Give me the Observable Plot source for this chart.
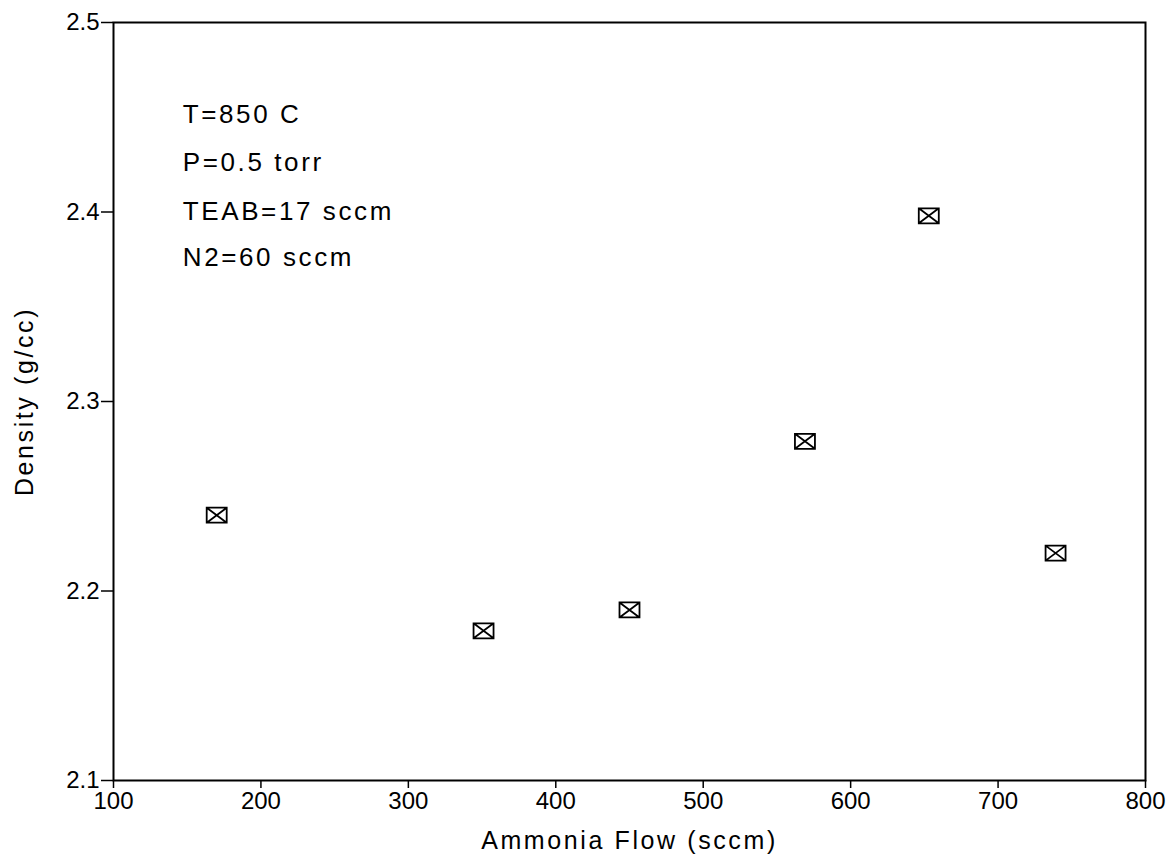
<!DOCTYPE html>
<html>
<head>
<meta charset="utf-8">
<script src="https://cdn.jsdelivr.net/npm/d3@7"></script>
<script src="https://cdn.jsdelivr.net/npm/@observablehq/plot@0.6"></script>
<style>
  html, body { margin: 0; padding: 0; background: #fff; }
  #chart svg { display: block; }
  /* wide, airy lettering for axis titles and the condition notes */
  #chart g[aria-label="x-axis label"] text,
  #chart g[aria-label="y-axis label"] text { letter-spacing: 2.6px; font-size: 25px; }
  #chart g[aria-label="text"] text { letter-spacing: 2.6px; }
</style>
</head>
<body>
<div id="chart"></div>
<script>
// Film density versus ammonia flow
const flow = [170, 351, 450, 569, 653, 739];              // sccm
const density = [2.24, 2.179, 2.19, 2.279, 2.398, 2.22];  // g/cc

const xTicks = [100, 200, 300, 400, 500, 600, 700, 800];
const yTicks = [2.1, 2.2, 2.3, 2.4, 2.5];

// Process conditions listed in the upper left
const conditionText = ["T=850 C", "P=0.5 torr", "TEAB=17 sccm", "N2=60 sccm"];
const conditionX = [147, 147, 147, 147];
const conditionY = [2.4515, 2.426, 2.4003, 2.376];

const points = flow.map((f, i) => ({flow: f, density: density[i]}));
const conditions = conditionText.map((t, i) => ({text: t, x: conditionX[i], y: conditionY[i]}));

// Open rectangle with a cross inside
const boxCross = {
  draw(context) {
    const w = 10, h = 7.5;
    context.moveTo(-w, -h);
    context.lineTo(w, -h);
    context.lineTo(w, h);
    context.lineTo(-w, h);
    context.closePath();
    context.moveTo(-w, -h);
    context.lineTo(w, h);
    context.moveTo(w, -h);
    context.lineTo(-w, h);
  }
};

const font = "'Liberation Sans', Arial, Helvetica, sans-serif";

const chart = Plot.plot({
  width: 1175,
  height: 860,
  marginLeft: 113,
  marginRight: 30,
  marginTop: 22,
  marginBottom: 80,
  style: {fontFamily: font, background: "#fff", color: "#000"},
  x: {domain: [100, 800]},
  y: {domain: [2.1, 2.5]},
  marks: [
    Plot.frame({stroke: "#000", strokeWidth: 2}),
    Plot.axisX({
      ticks: xTicks,
      tickSize: 8,
      tickPadding: 3,
      tickFormat: d => String(d),
      fontSize: 24,
      strokeWidth: 1.5,
      label: "Ammonia Flow (sccm)",
      labelAnchor: "center",
      labelArrow: "none",
      labelOffset: 68
    }),
    Plot.axisY({
      ticks: yTicks,
      tickSize: 12,
      tickPadding: 2,
      tickFormat: d => d.toFixed(1),
      fontSize: 24,
      strokeWidth: 1.5,
      label: "Density (g/cc)",
      labelAnchor: "center",
      labelArrow: "none",
      labelOffset: 98
    }),
    Plot.dot(points, {
      x: "flow",
      y: "density",
      symbol: boxCross,
      r: 8,
      stroke: "#000",
      strokeWidth: 1.8,
      fill: "#fff"
    }),
    Plot.text(conditions, {
      x: "x",
      y: "y",
      text: "text",
      textAnchor: "start",
      fontSize: 26,
      fill: "#000"
    })
  ]
});

document.getElementById("chart").appendChild(chart);
</script>
</body>
</html>
